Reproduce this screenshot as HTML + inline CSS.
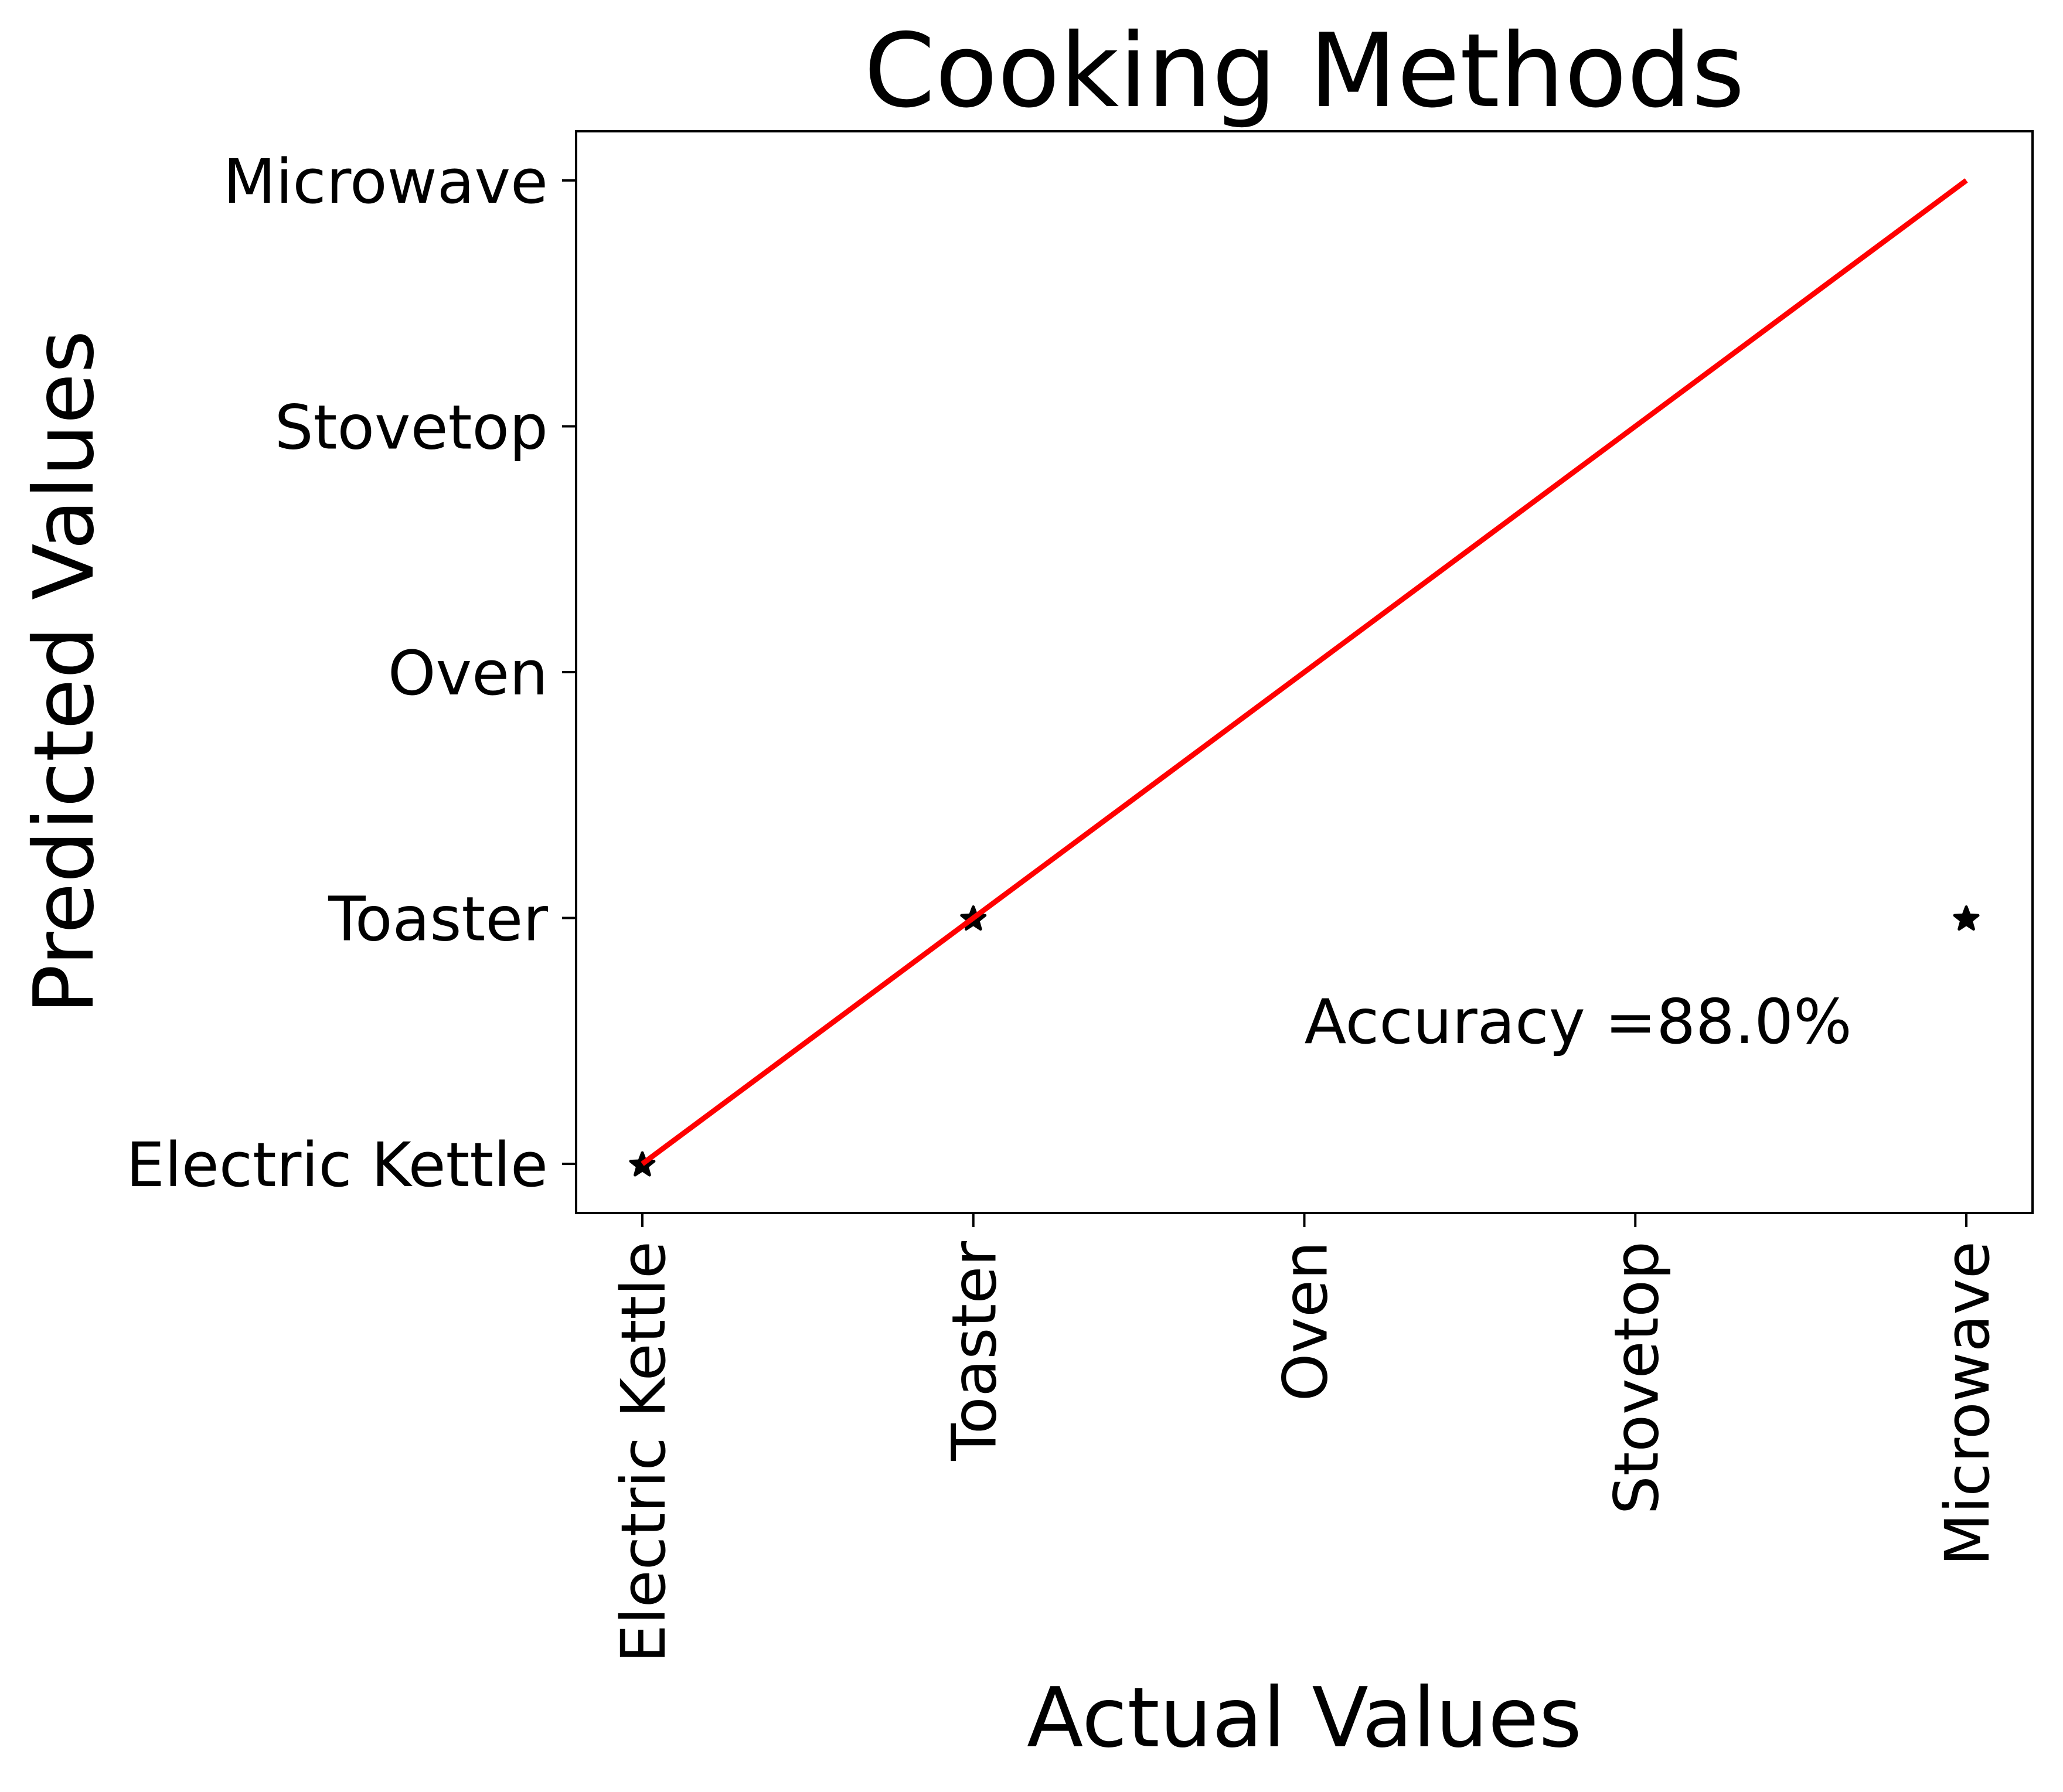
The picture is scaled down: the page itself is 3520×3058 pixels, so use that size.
<!DOCTYPE html>
<html><head><meta charset="utf-8"><style>
html,body{margin:0;padding:0;background:#fff;}
svg{display:block;font-family:"DejaVu Sans","Liberation Sans",sans-serif;}
</style></head><body>
<svg id="chart" width="3520" height="3058" xmlns="http://www.w3.org/2000/svg"></svg>
<script>
const categories = ["Electric Kettle","Toaster","Oven","Stovetop","Microwave"];
const actualValues = [0, 1, 4];
const predictedValues = [0, 1, 1];
const lineX = [0, 4];
const lineY = [0, 4];
const accuracyText = "Accuracy =88.0%";

const NS = "http://www.w3.org/2000/svg";
const svg = document.getElementById("chart");
const L = 983, R = 3468, T = 224, B = 2070;
const dMin = -0.2, dMax = 4.2;
function xs(v){ return L + (v - dMin) / (dMax - dMin) * (R - L); }
function ys(v){ return B - (v - dMin) / (dMax - dMin) * (B - T); }
function mk(tag, attrs){ const e = document.createElementNS(NS, tag); for (const k in attrs) e.setAttribute(k, attrs[k]); svg.appendChild(e); return e; }

let t = mk("text", {x: (L+R)/2, y: 181, "font-size": 174, "text-anchor": "middle", fill: "#000"});
t.textContent = "Cooking Methods";



let fr = mk("rect", {x: L, y: T, width: R-L, height: B-T, fill: "none", stroke: "#000", "stroke-width": 4});



categories.forEach((c, i) => {
  const x = xs(i);
  let tk = mk("line", {x1: x, x2: x, y1: B, y2: B + 24, stroke: "#000", "stroke-width": 4});
  
  
  let lb = mk("text", {x: 0, y: 0, "font-size": 104, "text-anchor": "end", fill: "#000",
    transform: `translate(${x + 38},${B + 48}) rotate(-90)`});
  lb.textContent = c;
  
  

  const y = ys(i);
  let tky = mk("line", {x1: L - 24, x2: L, y1: y, y2: y, stroke: "#000", "stroke-width": 4});
  
  
  let lby = mk("text", {x: L - 48, y: y + 38, "font-size": 104, "text-anchor": "end", fill: "#000"});
  lby.textContent = c;
  
  
});

let xl = mk("text", {x: (L+R)/2, y: 2980, "font-size": 141, "text-anchor": "middle", fill: "#000"});
xl.textContent = "Actual Values";


let yl = mk("text", {x: 0, y: 0, "font-size": 141, "text-anchor": "middle", fill: "#000",
  transform: `translate(158,${(T+B)/2}) rotate(-90)`});
yl.textContent = "Predicted Values";



function starPath(cx, cy, r){
  let p = "";
  for (let k = 0; k < 10; k++){
    const rr = k % 2 ? r * 0.42 : r;
    const a = -Math.PI/2 + k * Math.PI/5;
    p += (k ? "L" : "M") + (cx + rr*Math.cos(a)).toFixed(1) + "," + (cy + rr*Math.sin(a)).toFixed(1);
  }
  return p + "Z";
}
actualValues.forEach((a, i) => {
  let s = mk("path", {d: starPath(xs(a), ys(predictedValues[i]) + 2, 21), fill: "#000", stroke: "#000", "stroke-width": 5, "stroke-linejoin": "round"});
  
  
});

let ln = mk("line", {x1: xs(lineX[0]), y1: ys(lineY[0]), x2: xs(lineX[1]), y2: ys(lineY[1]), stroke: "#ff0000", "stroke-width": 9});



let ac = mk("text", {x: xs(2), y: 1780, "font-size": 105, fill: "#000"});
ac.textContent = accuracyText;


</script>
</body></html>
